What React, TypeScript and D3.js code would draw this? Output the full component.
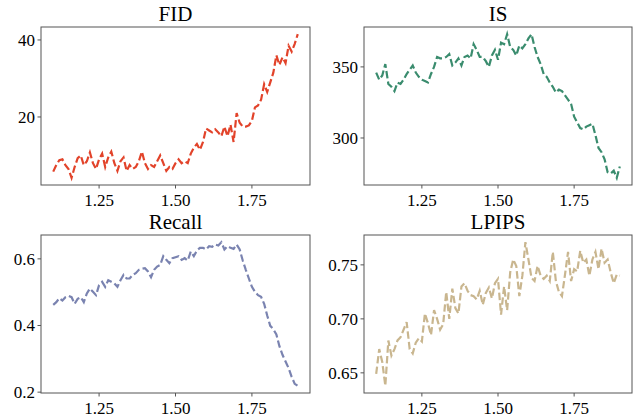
import * as d3 from 'd3';

// x grid: guidance scale 1.10 .. 1.90
const xValues = d3.range(81).map(i => +(1.1 + i * 0.01).toFixed(2));

const fid = [
  5.8, 7.5, 8.8, 9.0, 7.5, 6.5, 4.2, 7.0, 9.3, 10.0,
  7.5, 8.5, 10.8, 8.0, 6.5, 9.0, 10.5, 7.0, 9.5, 11.0,
  8.0, 6.0, 8.5, 9.5, 6.0, 7.5, 6.5, 7.0, 8.5, 11.0,
  8.0, 6.5, 7.5, 7.0, 8.5, 10.0, 8.0, 6.0, 7.0, 6.5,
  8.0, 9.0, 8.0, 8.5, 8.0, 10.5, 12.0, 13.0, 11.5, 13.5,
  17.0, 16.5, 16.0, 16.8, 16.0, 15.0, 17.5, 15.0, 18.0, 13.5,
  21.0, 18.5, 17.5, 17.5, 17.8, 19.0, 22.5, 23.0, 24.5, 28.5,
  26.5, 29.0, 31.5, 36.0, 33.5, 35.5, 34.0, 38.5, 37.0, 39.0,
  41.5,
];

const isScore = [
  346, 341, 344, 352, 338, 336, 333, 339, 338, 341,
  345, 348, 351, 346, 343, 341, 340, 339, 345, 350,
  357, 356, 356, 357, 359, 351, 353, 356, 351, 357,
  358, 356, 366, 362, 357, 357, 354, 350, 358, 362,
  355, 367, 366, 373, 364, 362, 358, 365, 363, 366,
  370, 373, 364, 357, 352, 345, 343, 339, 336, 332,
  334, 333, 330, 327, 324, 315, 311, 307, 306, 308,
  309, 310, 302, 293, 290, 285, 276, 275, 277, 272,
  280,
];

const recall = [
  0.462, 0.470, 0.482, 0.475, 0.485, 0.489, 0.485, 0.465, 0.480, 0.485,
  0.470, 0.496, 0.511, 0.501, 0.491, 0.521, 0.531, 0.516, 0.536, 0.531,
  0.526, 0.516, 0.536, 0.552, 0.541, 0.541, 0.552, 0.557, 0.567, 0.570,
  0.572, 0.562, 0.545, 0.567, 0.577, 0.582, 0.608, 0.597, 0.587, 0.602,
  0.605, 0.608, 0.597, 0.602, 0.595, 0.622, 0.608, 0.625, 0.633, 0.633,
  0.628, 0.638, 0.636, 0.643, 0.640, 0.650, 0.628, 0.638, 0.633, 0.630,
  0.643, 0.628, 0.595, 0.567, 0.541, 0.516, 0.501, 0.491, 0.486, 0.465,
  0.430, 0.399, 0.389, 0.373, 0.338, 0.312, 0.292, 0.272, 0.246, 0.225,
  0.219,
];

const lpips = [
  0.649, 0.672, 0.660, 0.638, 0.680, 0.666, 0.672, 0.680, 0.683, 0.690,
  0.697, 0.672, 0.668, 0.678, 0.682, 0.679, 0.705, 0.696, 0.685, 0.708,
  0.700, 0.690, 0.695, 0.725, 0.700, 0.728, 0.710, 0.705, 0.730, 0.733,
  0.726, 0.722, 0.721, 0.718, 0.726, 0.713, 0.724, 0.729, 0.719, 0.733,
  0.737, 0.704, 0.730, 0.708, 0.743, 0.755, 0.749, 0.721, 0.740, 0.771,
  0.755, 0.738, 0.735, 0.749, 0.740, 0.737, 0.740, 0.735, 0.762, 0.735,
  0.725, 0.721, 0.741, 0.762, 0.735, 0.746, 0.744, 0.763, 0.752, 0.755,
  0.740, 0.755, 0.762, 0.746, 0.765, 0.752, 0.755, 0.743, 0.733, 0.741,
  0.740,
];

const xTicks = [1.25, 1.5, 1.75];
const fidTicks = [20, 40];
const isTicks = [300, 350];
const recallTicks = [0.2, 0.4, 0.6];
const lpipsTicks = [0.65, 0.7, 0.75];

const W = 639;
const H = 414;
const FONT = '"Liberation Serif", "Times New Roman", serif';
const SPINE = '#555555';

type PanelProps = {
  title: string;
  values: number[];
  ticks: number[];
  fmt: (v: number) => string;
  color: string;
  x0: number;
  x1: number;
  y0: number;
  y1: number;
};

function Panel({ title, values, ticks, fmt, color, x0, x1, y0, y1 }: PanelProps) {
  const xExt = d3.extent(xValues) as [number, number];
  const xPad = (xExt[1] - xExt[0]) * 0.05;
  const x = d3.scaleLinear().domain([xExt[0] - xPad, xExt[1] + xPad]).range([x0, x1]);

  const yExt = d3.extent(values) as [number, number];
  const yPad = (yExt[1] - yExt[0]) * 0.05;
  const y = d3.scaleLinear().domain([yExt[0] - yPad, yExt[1] + yPad]).range([y1, y0]);

  const line = d3.line<number>()
    .x((_, i) => x(xValues[i]))
    .y(d => y(d));

  return (
    <g>
      <path
        d={line(values) || ''}
        fill="none"
        stroke={color}
        strokeWidth={2.2}
        strokeDasharray="7.4,3.2"
      />
      <rect x={x0} y={y0} width={x1 - x0} height={y1 - y0} fill="none" stroke={SPINE} strokeWidth={1} />
      {xTicks.map(t => (
        <g key={t} transform={`translate(${x(t)},${y1})`}>
          <line y2={3.5} stroke={SPINE} />
          <text y={21} textAnchor="middle" fontSize={17} fontFamily={FONT} fill="#000">
            {d3.format('.2f')(t)}
          </text>
        </g>
      ))}
      {ticks.map(t => (
        <g key={t} transform={`translate(${x0},${y(t)})`}>
          <line x2={-3.5} stroke={SPINE} />
          <text x={-6} dy="0.35em" textAnchor="end" fontSize={17} fontFamily={FONT} fill="#000">
            {fmt(t)}
          </text>
        </g>
      ))}
      <text
        x={(x0 + x1) / 2}
        y={y0 - 6}
        textAnchor="middle"
        fontSize={21}
        fontFamily={FONT}
        fill="#000"
      >
        {title}
      </text>
    </g>
  );
}

export default function App() {
  return (
    <svg
      width={W}
      height={H}
      style={{ position: 'absolute', left: 0, top: 0, background: '#fff' }}
    >
      <rect width={W} height={H} fill="#fff" />
      <Panel title="FID" values={fid} ticks={fidTicks} fmt={d3.format('d')} color="#e2432a"
        x0={41} x1={310} y0={27} y1={185} />
      <Panel title="IS" values={isScore} ticks={isTicks} fmt={d3.format('d')} color="#3a8c6e"
        x0={364} x1={632} y0={27} y1={185} />
      <Panel title="Recall" values={recall} ticks={recallTicks} fmt={d3.format('.1f')} color="#7a83b0"
        x0={41} x1={310} y0={235} y1={393} />
      <Panel title="LPIPS" values={lpips} ticks={lpipsTicks} fmt={d3.format('.2f')} color="#c9b68f"
        x0={364} x1={632} y0={235} y1={393} />
    </svg>
  );
}
